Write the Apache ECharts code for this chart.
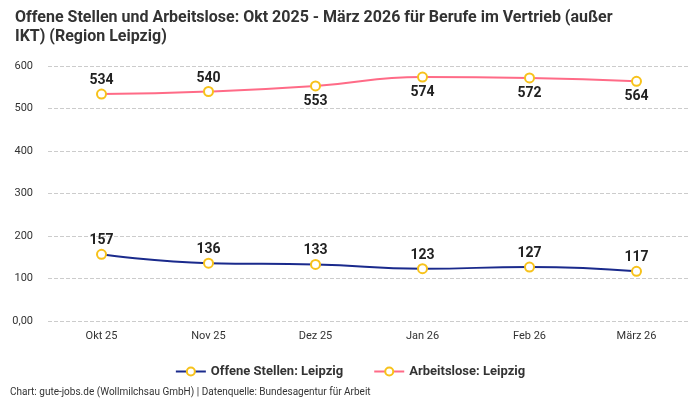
<!DOCTYPE html>
<html><head><meta charset="utf-8">
<script src="https://cdn.jsdelivr.net/npm/echarts@6/dist/echarts.min.js"></script>
<style>html,body{margin:0;padding:0;background:#fff}#c{width:700px;height:400px}</style>
</head><body><div id="c"></div>
<script>
var categories = ['Okt 25','Nov 25','Dez 25','Jan 26','Feb 26','März 26'];
var offeneStellen = [157,136,133,123,127,117];
var arbeitslose = [534,540,553,574,572,564];
var arbeitsloseLabelPos = ['top','top','bottom','bottom','bottom','bottom'];
var FONT = '"Roboto", "Liberation Sans", sans-serif';
var chart = echarts.init(document.getElementById('c'));
chart.setOption({
  animation:false,
  textStyle:{fontFamily:FONT},
  title:{
    text:'Offene Stellen und Arbeitslose: Okt 2025 - März 2026 für Berufe im Vertrieb (außer\nIKT) (Region Leipzig)',
    left:10, top:3,
    textStyle:{fontSize:16,fontWeight:'bold',color:'#333',lineHeight:19,fontFamily:FONT}
  },
  legend:{
    bottom:17, left:'center', itemWidth:30, itemHeight:10, itemGap:30,
    textStyle:{fontSize:13,fontWeight:'bold',color:'#333',fontFamily:FONT},
    data:[
      {name:'Offene Stellen: Leipzig',itemStyle:{color:'#fff',borderColor:'#f7c21b',borderWidth:2},lineStyle:{color:'#1a2a8c'}},
      {name:'Arbeitslose: Leipzig',itemStyle:{color:'#fff',borderColor:'#f7c21b',borderWidth:2},lineStyle:{color:'#ff6b87'}}
    ]
  },
  graphic:[{type:'text',left:10,top:387,style:{text:'Chart: gute-jobs.de (Wollmilchsau GmbH) | Datenquelle: Bundesagentur für Arbeit',fontSize:10,fill:'#333',fontFamily:FONT}}],
  grid:{left:48,right:10,top:66,bottom:79},
  xAxis:{type:'category',data:categories,boundaryGap:true,
    axisLine:{show:false},axisTick:{show:false},
    axisLabel:{color:'#333',fontSize:11,margin:10,fontFamily:FONT}},
  yAxis:{type:'value',min:0,max:600,interval:100,
    axisLabel:{color:'#333',fontSize:11,margin:15,fontFamily:FONT,formatter:function(v){return v===0?'0,00':String(v);}},
    splitLine:{lineStyle:{type:'dashed',color:'#ccc'}}},
  series:[
    {name:'Offene Stellen: Leipzig',type:'line',smooth:true,data:offeneStellen,
     symbol:'circle',symbolSize:9,
     lineStyle:{color:'#1a2a8c',width:2},
     itemStyle:{color:'#fff',borderColor:'#f7c21b',borderWidth:2},
     label:{show:true,position:'top',fontSize:14,fontWeight:'bold',color:'#222',distance:1,fontFamily:FONT}},
    {name:'Arbeitslose: Leipzig',type:'line',smooth:true,
     data:arbeitslose.map(function(v,i){return {value:v,label:{position:arbeitsloseLabelPos[i],distance:arbeitsloseLabelPos[i]==='top'?1:3}};}),
     symbol:'circle',symbolSize:9,
     lineStyle:{color:'#ff6b87',width:2},
     itemStyle:{color:'#fff',borderColor:'#f7c21b',borderWidth:2},
     label:{show:true,fontSize:14,fontWeight:'bold',color:'#222',fontFamily:FONT}}
  ]
});
</script></body></html>
